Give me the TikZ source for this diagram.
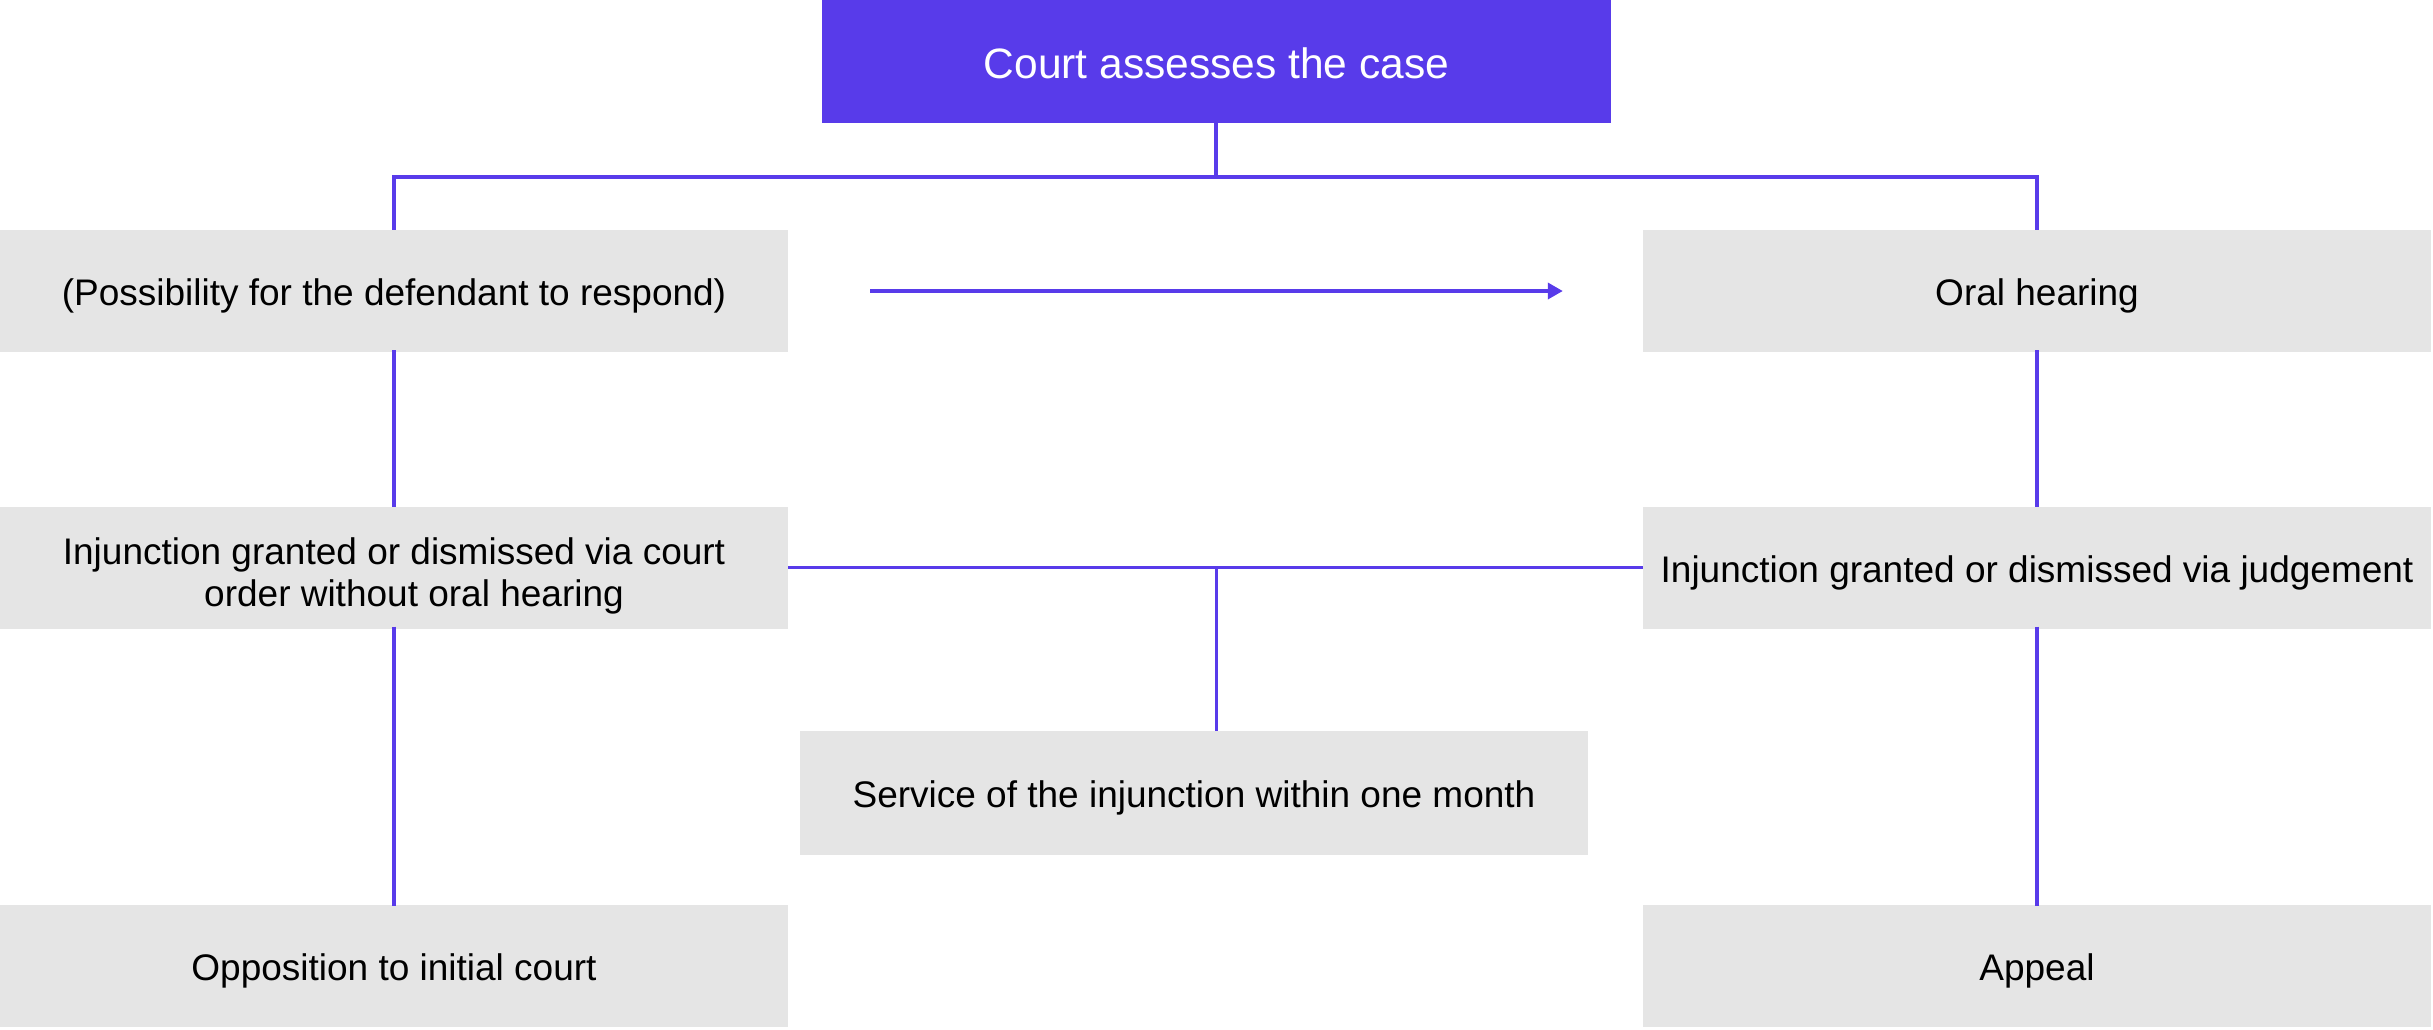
\documentclass[tikz,border=0pt]{standalone}
\usepackage{fontspec}
\setmainfont{Liberation Sans}
\usetikzlibrary{arrows.meta}
\definecolor{purp}{RGB}{88,59,234}
\definecolor{boxgrey}{RGB}{229,229,229}
\begin{document}
\begin{tikzpicture}[x=1pt,y=-1pt,
  greybox/.style={fill=boxgrey, draw=none, minimum width=788pt, minimum height=122pt, inner sep=0pt, align=center,
    font=\fontsize{37}{42}\selectfont, text height=29pt, text depth=0pt},
  twoline/.style={text height={}, text depth={}},
  topbox/.style={fill=purp, draw=none, minimum width=789pt, minimum height=123pt, inner sep=0pt, text=white,
    font=\fontsize{42.5}{48}\selectfont, text height=33pt, text depth=0pt},
  conn/.style={draw=purp, line width=3.5pt},
  thinconn/.style={draw=purp, line width=3pt}]
\useasboundingbox (0,0) rectangle (2433,1029);
\node[topbox] (top) at (1216.5,61.5) {Court assesses the case};
\node[greybox] (a1) at (394,291) {(Possibility for the defendant to respond)};
\node[greybox] (b1) at (2037,291) {Oral hearing};
\node[greybox, twoline] (a2) at (394,567.5) {\rule{0pt}{43pt}Injunction granted or dismissed via court\\\hspace*{40pt}order without oral hearing};
\node[greybox] (b2) at (2037,567.5) {Injunction granted or dismissed via judgement};
\node[greybox, minimum height=124pt] (mid) at (1194,793) {Service of the injunction within one month};
\node[greybox] (a4) at (394,966) {Opposition to initial court};
\node[greybox] (b4) at (2037,966) {Appeal};
\coordinate (j1) at (1216,177);
\coordinate (j2) at (1216,567.5);
% top tree
\draw[conn] ([yshift=4]top.south -| j1) -- (j1);
\draw[conn] (a1.north) -- (a1.north |- j1) -- (b1.north |- j1) -- (b1.north);
% verticals
\draw[conn] ([yshift=2]a1.south) -- ([yshift=-1]a2.north);
\draw[conn] ([yshift=2]a2.south) -- ([yshift=-1]a4.north);
\draw[conn] ([yshift=2]b1.south) -- ([yshift=-1]b2.north);
\draw[conn] ([yshift=2]b2.south) -- ([yshift=-1]b4.north);
% row 2 link
\draw[conn] (a2.east) -- (b2.west);
\draw[thinconn] (j2) -- (j2 |- mid.north);
% arrow
\draw[conn, -{Triangle[length=15pt,width=16pt]}] ([xshift=82]a1.east) -- ([xshift=-80]b1.west);
\end{tikzpicture}
\end{document}
